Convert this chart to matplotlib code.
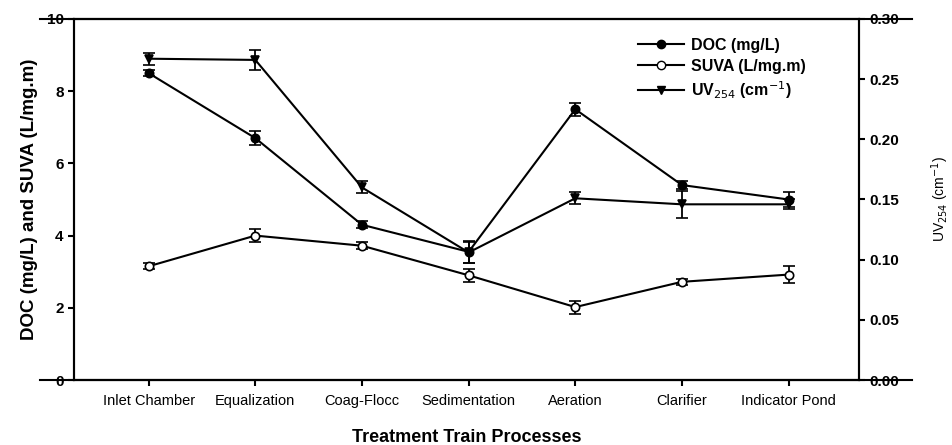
import matplotlib
matplotlib.use("Agg")
import matplotlib.pyplot as plt
from matplotlib.lines import Line2D

plt.rcParams['font.family'] = ['Liberation Sans', 'DejaVu Sans']

processes = ["Inlet Chamber", "Equalization", "Coag-Flocc", "Sedimentation",
             "Aeration", "Clarifier", "Indicator Pond"]
doc = [8.5, 6.7, 4.3, 3.55, 7.5, 5.4, 5.0]
doc_err = [0.08, 0.2, 0.1, 0.3, 0.18, 0.1, 0.2]
suva = [3.15, 4.0, 3.72, 2.9, 2.02, 2.72, 2.92]
suva_err = [0.08, 0.18, 0.1, 0.18, 0.18, 0.08, 0.23]
uv254 = [0.267, 0.266, 0.160, 0.106, 0.151, 0.146, 0.146]
uv254_err = [0.005, 0.008, 0.005, 0.009, 0.005, 0.011, 0.004]

x = list(range(1, len(processes) + 1))

fig = plt.figure(figsize=(9.53, 4.45), dpi=100)
ax = fig.add_axes([74 / 953, 1 - 380 / 445, (859 - 74) / 953, (380 - 19) / 445])
ax2 = ax.twinx()

style = dict(color='black', lw=1.5, ms=6, capsize=4, elinewidth=1.3,
             capthick=1.3, mec='black', mew=1.2)
ax.errorbar(x, doc, yerr=doc_err, marker='o', mfc='black', zorder=3, **style)
ax.errorbar(x, suva, yerr=suva_err, marker='o', mfc='white', zorder=3, **style)
ax2.errorbar(x, uv254, yerr=uv254_err, marker='v', mfc='black', zorder=3, **style)

ax.set_xlim(0.3, 7.66)
ax.set_ylim(0, 10)
ax2.set_ylim(0, 0.30)
ax.set_yticks([0, 2, 4, 6, 8, 10])
ax2.set_yticks([0, 0.05, 0.10, 0.15, 0.20, 0.25, 0.30])
ax2.set_yticklabels(["0.00", "0.05", "0.10", "0.15", "0.20", "0.25", "0.30"])
ax.set_xticks(x)
ax.set_xticklabels(processes, fontsize=10.5)

for a in (ax, ax2):
    for s in a.spines.values():
        s.set_linewidth(1.5)
    a.tick_params(direction='out', length=4, width=1.5)
ax.tick_params(axis='y', labelsize=11)
ax2.tick_params(axis='y', labelsize=11)
for lab in ax.get_yticklabels() + ax2.get_yticklabels():
    lab.set_fontweight('bold')
ax.tick_params(axis='x', pad=6)

ax.set_ylabel("DOC (mg/L) and SUVA (L/mg.m)", fontsize=13.5, fontweight='bold', labelpad=6)
ax2.set_ylabel(r"UV$_{254}$ (cm$^{-1}$)", fontsize=10, labelpad=22)
fig.text(0.5 * (74 + 859) / 953, 1 - 437 / 445, "Treatment Train Processes",
         fontsize=13, fontweight='bold', ha='center', va='center')

# long horizontal lines through the end tick labels
for yy in (19, 380):
    fig.add_artist(Line2D([40 / 953, 912 / 953], [1 - yy / 445, 1 - yy / 445],
                          color='black', lw=1.5))

handles = [
    Line2D([], [], color='black', lw=1.5, marker='o', mfc='black', mec='black', ms=6),
    Line2D([], [], color='black', lw=1.5, marker='o', mfc='white', mec='black', ms=6),
    Line2D([], [], color='black', lw=1.5, marker='v', mfc='black', mec='black', ms=6),
]
labels = ["DOC (mg/L)", "SUVA (L/mg.m)", r"UV$_{254}$ (cm$^{-1}$)"]
fig.legend(handles, labels, loc='upper left', bbox_to_anchor=(638 / 953, 1 - 38 / 445),
           frameon=False, prop={'weight': 'bold', 'size': 11.5}, handlelength=2.9,
           handletextpad=0.4, labelspacing=0.35, borderpad=0, borderaxespad=0)

fig.savefig("out.png", dpi=100)
